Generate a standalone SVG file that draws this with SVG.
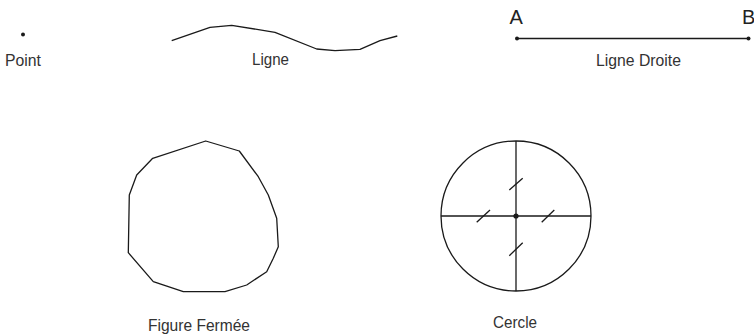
<svg xmlns="http://www.w3.org/2000/svg" width="754" height="335" viewBox="0 0 754 335">
<style>
.s{fill:none;stroke:#1a1a1a;stroke-width:1.3;stroke-linejoin:round}
.d{fill:#1a1a1a}
.t{font-family:"Liberation Sans",Arial,sans-serif;font-size:17px;fill:#333}
.l{font-family:"Liberation Sans",Arial,sans-serif;font-size:20px;fill:#222}
</style>
<rect width="754" height="335" fill="#fff"/>
<g id="point">
<circle class="d" cx="23" cy="34.5" r="2"/>
<text class="t" x="5" y="66" textLength="36" lengthAdjust="spacingAndGlyphs">Point</text>
</g>
<g id="ligne">
<polyline class="s" points="171.7,40.7 210,27.3 231.7,25.3 275,32.3 316.7,49 335,50.7 360,49.3 380,40.7 397.3,36"/>
<text class="t" x="252" y="65" textLength="37" lengthAdjust="spacingAndGlyphs">Ligne</text>
</g>
<g id="ligne-droite">
<line class="s" x1="517" y1="38.5" x2="748.5" y2="38.5"/>
<circle class="d" cx="517" cy="38.5" r="2"/>
<circle class="d" cx="748.5" cy="38.5" r="2"/>
<text class="l" x="509.5" y="23.5">A</text>
<text class="l" x="742" y="23.5">B</text>
<text class="t" x="596" y="66" textLength="85" lengthAdjust="spacingAndGlyphs">Ligne Droite</text>
</g>
<g id="figure-fermee">
<polygon class="s" points="205.7,141 239.3,151 258.3,176.7 268.3,195 276.7,218.3 278.3,246.7 273.3,258.3 266.7,271.7 246.7,285 225,291.7 183.3,291.7 153.3,281.7 128.3,252.7 129.3,195 136.7,175 152.7,158.3"/>
<text class="t" x="148" y="331" textLength="102" lengthAdjust="spacingAndGlyphs">Figure Fermée</text>
</g>
<g id="cercle">
<circle class="s" cx="516" cy="216" r="75"/>
<line class="s" x1="516" y1="141" x2="516" y2="291"/>
<line class="s" x1="441" y1="216" x2="591" y2="216"/>
<circle class="d" cx="516" cy="216" r="2.6"/>
<line class="s" x1="509.3" y1="190" x2="522.7" y2="178.3"/>
<line class="s" x1="476.7" y1="222.3" x2="490" y2="210"/>
<line class="s" x1="541.7" y1="222.3" x2="554.3" y2="210"/>
<line class="s" x1="509.3" y1="255.7" x2="522.7" y2="242.7"/>
<text class="t" x="493" y="327.5" textLength="44" lengthAdjust="spacingAndGlyphs">Cercle</text>
</g>
</svg>
